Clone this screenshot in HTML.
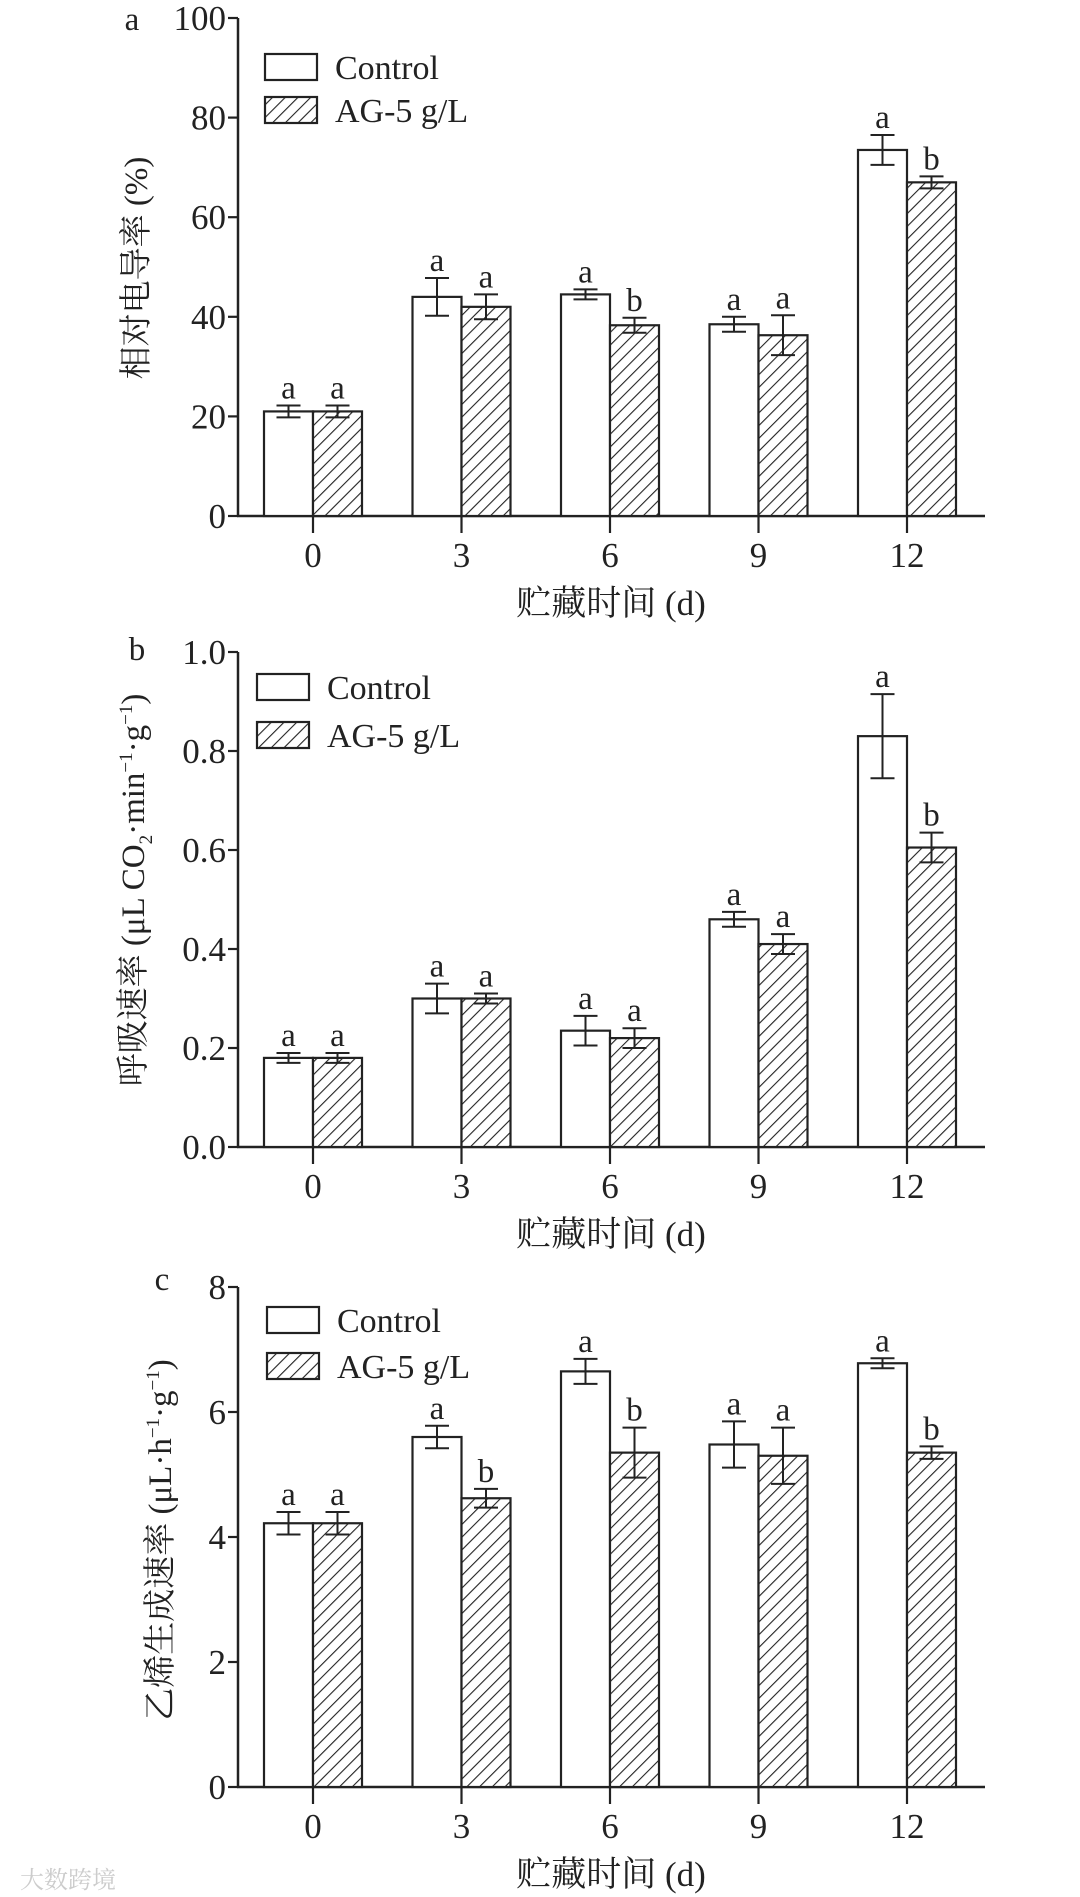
<!DOCTYPE html>
<html><head><meta charset="utf-8">
<style>
html,body{margin:0;padding:0;background:#fff;}
svg{display:block;}
text{font-family:"Liberation Serif","Noto Serif CJK SC",serif;fill:#222;}
</style></head>
<body>
<svg id="fig" width="1080" height="1897" viewBox="0 0 1080 1897" xmlns="http://www.w3.org/2000/svg">
<defs>
<pattern id="hatch" patternUnits="userSpaceOnUse" width="9" height="9" patternTransform="rotate(45)">
<rect width="9" height="9" fill="#fff"/>
<line x1="0" y1="0" x2="0" y2="9" stroke="#222" stroke-width="2.2"/>
</pattern>
</defs>
<text x="20" y="1888" font-size="24" style="fill:#ccc">大数跨境</text>
</svg>
<script>
const days = ["0","3","6","9","12"];
const aControl = [21,44,44.5,38.5,73.5];
const aControlErr = [1.2,3.8,1,1.5,3];
const aAG = [21,42,38.3,36.3,67];
const aAGErr = [1.2,2.5,1.5,4,1.2];
const aControlSig = ["a","a","a","a","a"];
const aAGSig = ["a","a","b","a","b"];
const aTicks = [0,20,40,60,80,100];
const aTickLabels = ["0","20","40","60","80","100"];

const bControl = [0.18,0.30,0.235,0.46,0.83];
const bControlErr = [0.01,0.03,0.03,0.015,0.085];
const bAG = [0.18,0.30,0.22,0.41,0.605];
const bAGErr = [0.01,0.01,0.02,0.02,0.03];
const bControlSig = ["a","a","a","a","a"];
const bAGSig = ["a","a","a","a","b"];
const bTicks = [0,0.2,0.4,0.6,0.8,1.0];
const bTickLabels = ["0.0","0.2","0.4","0.6","0.8","1.0"];

const cControl = [4.22,5.6,6.65,5.48,6.78];
const cControlErr = [0.18,0.18,0.2,0.37,0.08];
const cAG = [4.22,4.62,5.35,5.3,5.35];
const cAGErr = [0.18,0.15,0.4,0.45,0.1];
const cControlSig = ["a","a","a","a","a"];
const cAGSig = ["a","b","b","a","b"];
const cTicks = [0,2,4,6,8];
const cTickLabels = ["0","2","4","6","8"];

const NS = "http://www.w3.org/2000/svg";
const svg = document.getElementById('fig');
function mk(tag, attrs, parent){
  const e = document.createElementNS(NS, tag);
  for (const k in attrs) e.setAttribute(k, attrs[k]);
  (parent||svg).appendChild(e);
  return e;
}

function panel(cfg){
  const g = mk('g', {});
  
  
  const ax = 238, xEnd = 985, y0 = cfg.y0, yTop = cfg.yTop, vmax = cfg.max;
  const yS = v => y0 - (v / vmax) * (y0 - yTop);
  const xC = i => 313 + 148.5 * i;
  const bw = 49;
  const yl = mk('line', {x1:ax, y1:yTop, x2:ax, y2:y0+1, stroke:'#222','stroke-width':2.5}, g);
  
  
  const xl = mk('line', {x1:ax-1, y1:y0, x2:xEnd, y2:y0, stroke:'#222','stroke-width':2.5}, g);
  
  
  cfg.ticks.forEach((t, k) => {
    const y = yS(t);
    mk('line', {x1:ax-10, y1:y, x2:ax, y2:y, stroke:'#222','stroke-width':2.2}, g);
    const tx = mk('text', {x:ax-12, y:y+12, 'font-size':35, 'text-anchor':'end'}, g);
    tx.textContent = cfg.tickLabels[k];
    
    
  });
  days.forEach((d, i) => {
    const x = xC(i);
    mk('line', {x1:x, y1:y0, x2:x, y2:y0+17, stroke:'#222','stroke-width':2.2}, g);
    const tx = mk('text', {x:x, y:y0+51, 'font-size':35, 'text-anchor':'middle'}, g);
    tx.textContent = d;
    
    
    [[cfg.ctrl, cfg.ctrlErr, cfg.ctrlSig, x-bw, '#fff', 'bar-control'], [cfg.ag, cfg.agErr, cfg.agSig, x, 'url(#hatch)', 'bar-ag']].forEach(s => {
      const v = s[0][i], e = s[1][i];
      const yv = yS(v);
      const r = mk('rect', {x:s[3], y:yv, width:bw, height:y0-yv, fill:s[4], stroke:'#222','stroke-width':2.2}, g);
      
      
      const cx = s[3] + bw/2, yh = yS(v+e), ylo = yS(v-e);
      const eb = mk('path', {d:`M${cx-12},${yh}H${cx+12}M${cx},${yh}V${ylo}M${cx-12},${ylo}H${cx+12}`, stroke:'#222','stroke-width':2, fill:'none'}, g);
      
      
      const st = mk('text', {x:cx, y:yh-7, 'font-size':33, 'text-anchor':'middle'}, g);
      st.textContent = s[2][i];
      
      
    });
  });
  const L = cfg.leg;
  const lb1 = mk('rect', {x:L.x, y:L.y1, width:52, height:26, fill:'#fff', stroke:'#222','stroke-width':2.2}, g);
  
  
  const lt1 = mk('text', {x:L.x+70, y:L.y1+25, 'font-size':34}, g);
  lt1.textContent = 'Control';
  
  
  const lb2 = mk('rect', {x:L.x, y:L.y2, width:52, height:26, fill:'url(#hatch)', stroke:'#222','stroke-width':2.2}, g);
  
  
  const lt2 = mk('text', {x:L.x+70, y:L.y2+25, 'font-size':34}, g);
  lt2.textContent = 'AG-5 g/L';
  
  
  const xt = mk('text', {x:611, y:y0+99, 'font-size':35, 'text-anchor':'middle'}, g);
  xt.textContent = '贮藏时间 (d)';
  
  
  const yt = mk('text', {x:0, y:0, 'font-size':33, 'text-anchor':'middle', transform:`translate(${cfg.ytx},${cfg.yty}) rotate(-90)`}, g);
  yt.innerHTML = cfg.ytitle;
  
  
  const pl = mk('text', {x:cfg.plx, y:cfg.ply, 'font-size':33, 'text-anchor':'middle'}, g);
  pl.textContent = cfg.letter;
  
  
}

panel({name:'chart-a-conductivity', y0:516, yTop:18, max:100, ticks:aTicks, tickLabels:aTickLabels,
  ctrl:aControl, ctrlErr:aControlErr, ag:aAG, agErr:aAGErr, ctrlSig:aControlSig, agSig:aAGSig,
  leg:{x:265, y1:54, y2:97}, ytitle:'相对电导率 (%)', ytx:147, yty:268, letter:'a', plx:132, ply:30});

panel({name:'chart-b-respiration', y0:1147, yTop:652, max:1.0, ticks:bTicks, tickLabels:bTickLabels,
  ctrl:bControl, ctrlErr:bControlErr, ag:bAG, agErr:bAGErr, ctrlSig:bControlSig, agSig:bAGSig,
  leg:{x:257, y1:674, y2:722}, ytitle:'呼吸速率 (μL CO<tspan font-size="19" dy="8">2</tspan><tspan dy="-8">·min</tspan><tspan font-size="19" dy="-12">−1</tspan><tspan dy="12">·g</tspan><tspan font-size="19" dy="-12">−1</tspan><tspan dy="12">)</tspan>', ytx:144, yty:890, letter:'b', plx:137, ply:660});

panel({name:'chart-c-ethylene', y0:1787, yTop:1287, max:8, ticks:cTicks, tickLabels:cTickLabels,
  ctrl:cControl, ctrlErr:cControlErr, ag:cAG, agErr:cAGErr, ctrlSig:cControlSig, agSig:cAGSig,
  leg:{x:267, y1:1307, y2:1353}, ytitle:'乙烯生成速率 (μL·h<tspan font-size="19" dy="-12">−1</tspan><tspan dy="12">·g</tspan><tspan font-size="19" dy="-12">−1</tspan><tspan dy="12">)</tspan>', ytx:171, yty:1540, letter:'c', plx:162, ply:1290});
</script>
</body></html>
